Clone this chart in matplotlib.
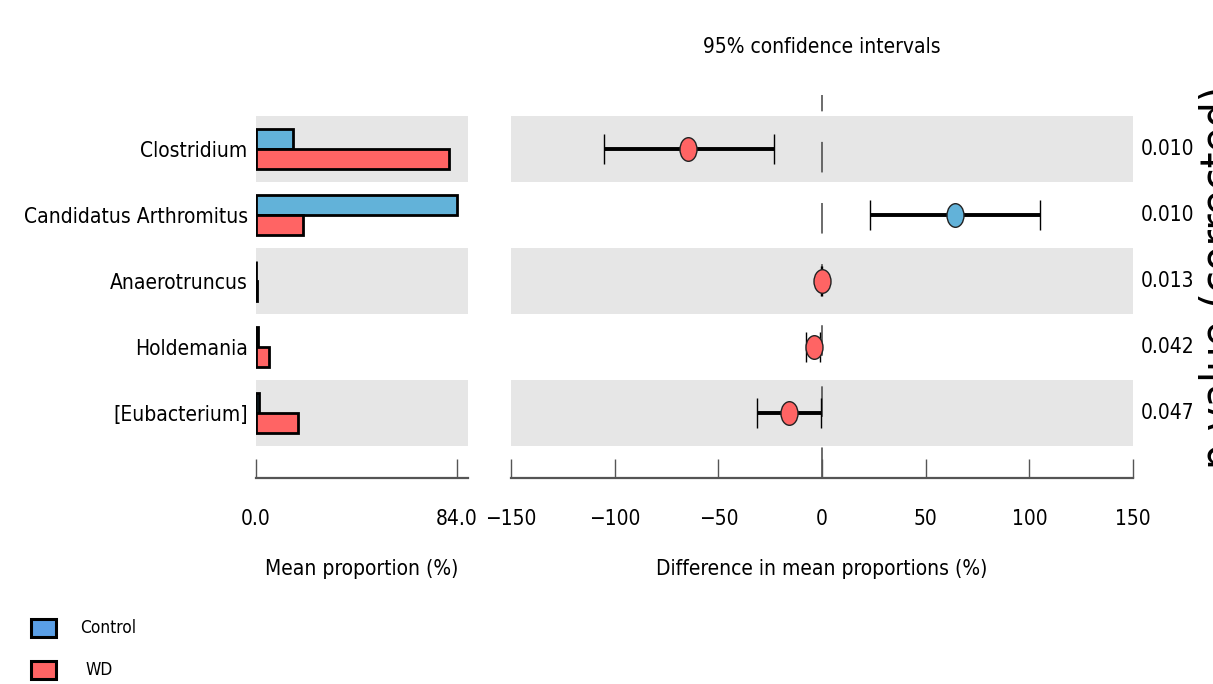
import numpy as np
import matplotlib
matplotlib.use("Agg")
import matplotlib.pyplot as plt
from matplotlib import font_manager as fm
from matplotlib.patches import Rectangle
from matplotlib.path import Path

# ---------------- data ----------------
features = ["Clostridium", "Candidatus Arthromitus", "Anaerotruncus",
            "Holdemania", "[Eubacterium]"]
control_mean = [15.5, 84.0, 0.1, 1.0, 1.2]
wd_mean = [80.6, 19.8, 0.3, 5.6, 17.4]
diff_mean = [-64.6, 64.1, -0.2, -3.9, -15.9]
ci_low = [-105.1, 23.2, -0.4, -7.7, -31.4]
ci_high = [-23.2, 105.1, 0.1, -1.0, -0.5]
p_values = ["0.010", "0.010", "0.013", "0.042", "0.047"]
group_names = ["Control", "WD"]
prop_ticks = [0.0, 84.0]
diff_ticks = [-150, -100, -50, 0, 50, 100, 150]

# ---------------- style ----------------
BLUE = "#62B2D9"
RED = "#FF6464"
LEG_BLUE = "#5A9FE6"
GREY = "#E6E6E6"

W, H = 1213, 684
DPI = 100

names = {f.name for f in fm.fontManager.ttflist}
dejavu_cond = any(f.name == "DejaVu Sans" and f.stretch in ("condensed", 700, "semi-condensed")
                  for f in fm.fontManager.ttflist)
if "Liberation Sans Narrow" in names:
    FAMILY = ["Liberation Sans Narrow", "DejaVu Sans"]
    STRETCH = "normal"
elif dejavu_cond:
    FAMILY = ["DejaVu Sans"]
    STRETCH = "condensed"
else:
    FAMILY = ["DejaVu Sans"]
    STRETCH = "normal"
plt.rcParams["font.family"] = FAMILY
plt.rcParams["font.stretch"] = STRETCH

fig = plt.figure(figsize=(W / DPI, H / DPI), dpi=DPI)
renderer = fig.canvas.get_renderer()


def fit_size(text, target_px):
    t = fig.text(0, 0, text, fontsize=10)
    w = t.get_window_extent(renderer).width
    t.remove()
    return 10 * target_px / w


FS = fit_size("Candidatus Arthromitus", 224.0)
FS_LEG = fit_size("Control", 56.0)
FS_P = fit_size("p-value (corrected)", 385.0)


def fx(px):
    return px / W


def fy(py):
    return 1 - py / H


ax_bottom_px, ax_top_px = 478, 95
n = len(features)
ypos = np.arange(n)[::-1]  # top feature at highest y
row_px = 66.0
y_lo = -(ax_bottom_px - 413) / row_px
y_hi = (413 - ax_top_px) / row_px

axL = fig.add_axes([fx(256), fy(ax_bottom_px), fx(468 - 256), (ax_bottom_px - ax_top_px) / H])
axR = fig.add_axes([fx(511), fy(ax_bottom_px), fx(1133 - 511), (ax_bottom_px - ax_top_px) / H])

for ax in (axL, axR):
    ax.set_ylim(y_lo, y_hi)
    for i, y in enumerate(ypos):
        if i % 2 == 0:
            ax.axhspan(y - 0.5, y + 0.5, color=GREY, lw=0, zorder=0)
    for s in ("top", "right", "left"):
        ax.spines[s].set_visible(False)
    ax.spines["bottom"].set_color("#555555")
    ax.spines["bottom"].set_linewidth(1.6)
    ax.tick_params(axis="x", direction="in", length=14, width=1, color="#555555",
                   labelsize=FS, pad=22)
    ax.tick_params(axis="y", length=0)
    ax.set_facecolor("none")

# ---- left: mean proportions ----
bh = 0.3
axL.barh(ypos + bh / 2, control_mean, height=bh, color=BLUE, edgecolor="black",
         linewidth=2.0, zorder=3)
axL.barh(ypos - bh / 2, wd_mean, height=bh, color=RED, edgecolor="black",
         linewidth=2.0, zorder=3)
axL.set_xlim(0, 84.0 * 1.055)
axL.set_xticks(prop_ticks)
axL.set_xticklabels([f"{t:.1f}" for t in prop_ticks])
axL.set_yticks(ypos)
axL.set_yticklabels(features, fontsize=FS)
axL.tick_params(axis="y", pad=6)
axL.set_xlabel("Mean proportion (%)", fontsize=FS, labelpad=22)

# ---- right: differences ----
axR.set_xlim(-150, 150)
axR.set_xticks(diff_ticks)
axR.set_xticklabels([f"{t}".replace("-", "\u2212") for t in diff_ticks])
axR.set_yticks([])
axR.axvline(0, color="#444444", lw=1.1, ls=(0, (20, 20)), zorder=1)
circ = Path.unit_circle()
ell = Path(circ.vertices * np.array([0.72, 1.0]), circ.codes)
for i, y in enumerate(ypos):
    d = diff_mean[i]
    col = BLUE if d > 0 else RED
    axR.errorbar([d], [y], xerr=[[d - ci_low[i]], [ci_high[i] - d]], fmt="none",
                 ecolor="black", elinewidth=2.8, capsize=11, capthick=1.0, zorder=3)
    axR.plot([d], [y], marker=ell, markersize=17, markerfacecolor=col,
             markeredgecolor="#222222", markeredgewidth=1.0, ls="none", zorder=4)
axR.set_xlabel("Difference in mean proportions (%)", fontsize=FS, labelpad=22)

# p-values
for i, y in enumerate(ypos):
    axR.text(1.0 + (1168 - 1133) / (1133 - 511), y, p_values[i],
             transform=axR.get_yaxis_transform(), ha="center", va="center", fontsize=FS)

fig.text(fx(822), fy(47), "95% confidence intervals", ha="center", va="center", fontsize=FS)
fig.text(fx(1199), fy(277), "p-value (corrected)", rotation=90, ha="left", va="center",
         fontsize=FS_P)

# legend
for (lab, col, yc, tx) in ((group_names[0], LEG_BLUE, 628, 80), (group_names[1], RED, 670, 85)):
    fig.patches.append(Rectangle((fx(31), fy(yc + 9)), fx(25), 18 / H, transform=fig.transFigure,
                                 facecolor=col, edgecolor="black", linewidth=2.2))
    fig.text(fx(tx), fy(yc), lab, ha="left", va="center", fontsize=FS_LEG)

fig.savefig("out.png", dpi=DPI)
